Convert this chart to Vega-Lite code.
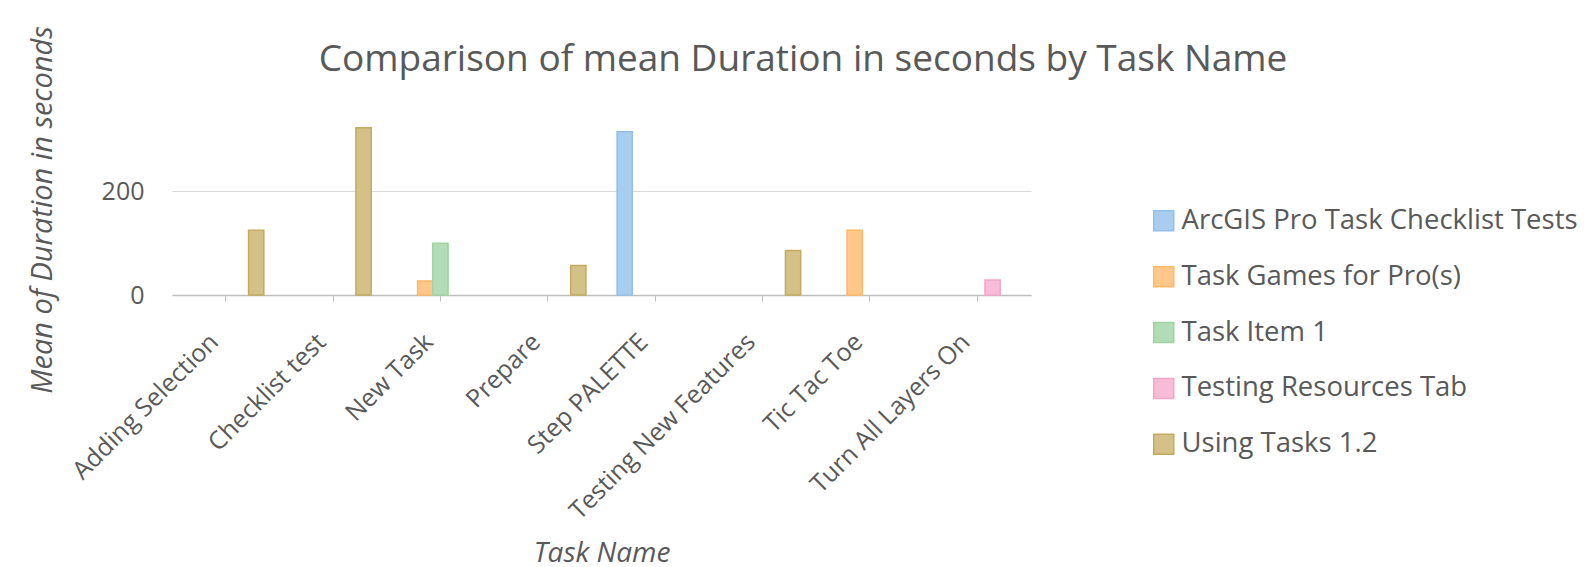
{
  "$schema": "https://vega.github.io/schema/vega-lite/v6.json",
  "width": 859,
  "height": 171,
  "padding": {"left": 28, "top": 25, "right": 0, "bottom": 0},
  "background": "#ffffff",
  "title": {
    "text": "Comparison of mean Duration in seconds by Task Name",
    "font": "Open Sans",
    "fontSize": 37,
    "fontWeight": "normal",
    "color": "#595959",
    "anchor": "middle",
    "frame": "bounds",
    "offset": -53
  },
  "data": {
    "values": [
      {"task": "Adding Selection", "series": "Using Tasks 1.2", "duration": 125},
      {"task": "Checklist test", "series": "Using Tasks 1.2", "duration": 323},
      {"task": "New Task", "series": "Task Games for Pro(s)", "duration": 27},
      {"task": "New Task", "series": "Task Item 1", "duration": 100},
      {"task": "Prepare", "series": "Using Tasks 1.2", "duration": 57},
      {"task": "Step PALETTE", "series": "ArcGIS Pro Task Checklist Tests", "duration": 315},
      {"task": "Testing New Features", "series": "Using Tasks 1.2", "duration": 86},
      {"task": "Tic Tac Toe", "series": "Task Games for Pro(s)", "duration": 125},
      {"task": "Turn All Layers On", "series": "Testing Resources Tab", "duration": 29}
    ]
  },
  "mark": {"type": "bar", "strokeWidth": 1.5},
  "encoding": {
    "x": {
      "field": "task",
      "type": "nominal",
      "title": "Task Name",
      "scale": {
        "domain": ["Adding Selection", "Checklist test", "New Task", "Prepare", "Step PALETTE", "Testing New Features", "Tic Tac Toe", "Turn All Layers On"],
        "paddingInner": 0.29,
        "paddingOuter": 0.145
      },
      "axis": {
        "labelAngle": -45,
        "labelFont": "Open Sans",
        "labelFontSize": 25,
        "labelColor": "#595959",
        "labelPadding": 28,
        "labelOffset": -20,
        "labelLimit": 500,
        "tickColor": "#bfbfbf",
        "tickSize": 6,
        "domainColor": "#bfbfbf",
        "domainWidth": 1.5,
        "titleFont": "Open Sans",
        "titleFontStyle": "italic",
        "titleFontWeight": "normal",
        "titleFontSize": 28,
        "titleColor": "#595959",
        "titlePadding": 44
      }
    },
    "xOffset": {
      "field": "series",
      "type": "nominal",
      "scale": {
        "domain": ["ArcGIS Pro Task Checklist Tests", "Task Games for Pro(s)", "Task Item 1", "Testing Resources Tab", "Using Tasks 1.2"],
        "paddingInner": 0,
        "paddingOuter": 0
      }
    },
    "y": {
      "field": "duration",
      "type": "quantitative",
      "title": "Mean of Duration in seconds",
      "scale": {"domain": [0, 330], "nice": false, "zero": true},
      "axis": {
        "values": [0, 200],
        "domain": false,
        "ticks": false,
        "labelFont": "Open Sans",
        "labelFontSize": 25,
        "labelColor": "#595959",
        "labelPadding": 28,
        "gridColor": "#d9d9d9",
        "gridWidth": 1.2,
        "titleFont": "Open Sans",
        "titleFontStyle": "italic",
        "titleFontWeight": "normal",
        "titleFontSize": 29,
        "titleColor": "#595959",
        "titlePadding": 44
      }
    },
    "fill": {
      "field": "series",
      "type": "nominal",
      "title": null,
      "scale": {
        "domain": ["ArcGIS Pro Task Checklist Tests", "Task Games for Pro(s)", "Task Item 1", "Testing Resources Tab", "Using Tasks 1.2"],
        "range": ["#a9cdee", "#ffc88a", "#b2dcb5", "#f7bdd6", "#d3c187"]
      },
      "legend": {
        "orient": "none",
        "legendX": 978,
        "legendY": 83,
        "padding": 0,
        "symbolType": "square",
        "symbolSize": 400,
        "symbolStrokeWidth": 1.5,
        "labelFont": "Open Sans",
        "labelFontSize": 27.5,
        "labelColor": "#595959",
        "labelOffset": 4,
        "rowPadding": 26.9,
        "labelLimit": 600
      }
    },
    "stroke": {
      "field": "series",
      "type": "nominal",
      "title": null,
      "scale": {
        "domain": ["ArcGIS Pro Task Checklist Tests", "Task Games for Pro(s)", "Task Item 1", "Testing Resources Tab", "Using Tasks 1.2"],
        "range": ["#92c0ea", "#ffb866", "#9fd3a3", "#f2a6c8", "#c4ab5d"]
      },
      "legend": {
        "orient": "none",
        "legendX": 978,
        "legendY": 83,
        "padding": 0,
        "symbolType": "square",
        "symbolSize": 400,
        "symbolStrokeWidth": 1.5,
        "labelFont": "Open Sans",
        "labelFontSize": 27.5,
        "labelColor": "#595959",
        "labelOffset": 4,
        "rowPadding": 26.9,
        "labelLimit": 600
      }
    }
  },
  "config": {
    "view": {"stroke": null}
  }
}
